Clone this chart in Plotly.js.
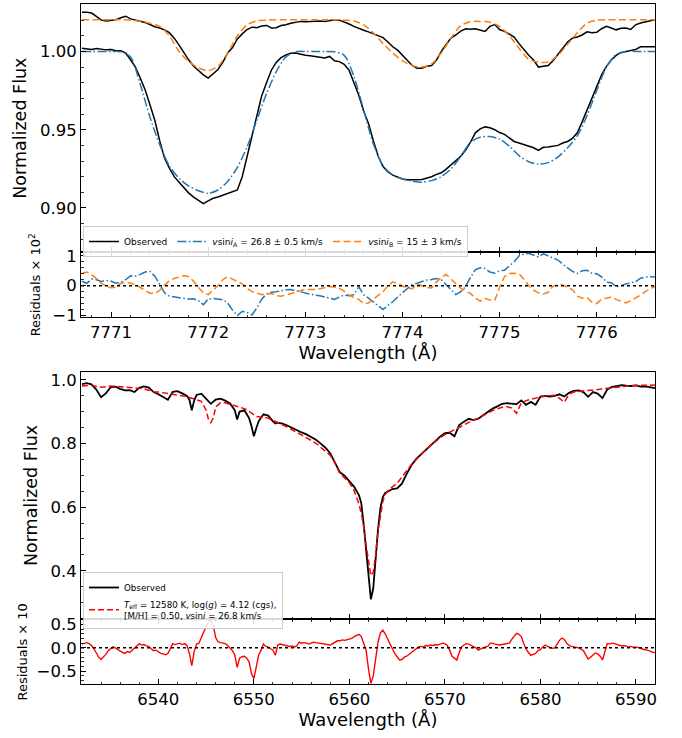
<!DOCTYPE html>
<html><head><meta charset="utf-8">
<script src="https://cdn.plot.ly/plotly-3.0.1.min.js"></script>
<style>html,body{margin:0;padding:0;background:#fff}#chart{width:682px;height:738px}</style>
</head><body><div id="chart"></div>
<script>
// ---------- Top panel (O I triplet) ----------
const wlTop = [
7770.70,7770.75,7770.80,7770.85,7770.90,7770.95,7771.00,7771.05,7771.10,7771.15,
7771.20,7771.25,7771.30,7771.35,7771.40,7771.45,7771.50,7771.55,7771.60,7771.65,
7771.70,7771.75,7771.80,7771.85,7771.90,7771.95,7772.00,7772.05,7772.10,7772.15,
7772.20,7772.25,7772.30,7772.35,7772.40,7772.45,7772.50,7772.55,7772.60,7772.65,
7772.70,7772.75,7772.80,7772.85,7772.90,7772.95,7773.00,7773.05,7773.10,7773.15,
7773.20,7773.25,7773.30,7773.35,7773.40,7773.45,7773.50,7773.55,7773.60,7773.65,
7773.70,7773.75,7773.80,7773.85,7773.90,7773.95,7774.00,7774.05,7774.10,7774.15,
7774.20,7774.25,7774.30,7774.35,7774.40,7774.45,7774.50,7774.55,7774.60,7774.65,
7774.70,7774.75,7774.80,7774.85,7774.90,7774.95,7775.00,7775.05,7775.10,7775.15,
7775.20,7775.25,7775.30,7775.35,7775.40,7775.45,7775.50,7775.55,7775.60,7775.65,
7775.70,7775.75,7775.80,7775.85,7775.90,7775.95,7776.00,7776.05,7776.10,7776.15,
7776.20,7776.25,7776.30,7776.35,7776.40,7776.45,7776.50,7776.55,7776.60];
const obsA = [
1.0020,1.0015,1.0012,1.0018,1.0015,1.0010,1.0012,1.0005,1.0005,0.9990,
0.9947,0.9900,0.9830,0.9755,0.9660,0.9560,0.9430,0.9320,0.9255,0.9200,
0.9165,0.9130,0.9095,0.9070,0.9050,0.9028,0.9045,0.9062,0.9070,0.9080,
0.9092,0.9105,0.9115,0.9200,0.9330,0.9460,0.9580,0.9715,0.9800,0.9880,
0.9930,0.9960,0.9978,0.9988,0.9990,0.9982,0.9975,0.9972,0.9968,0.9962,
0.9958,0.9968,0.9940,0.9935,0.9918,0.9880,0.9800,0.9720,0.9620,0.9540,
0.9430,0.9330,0.9265,0.9230,0.9210,0.9195,0.9185,0.9180,0.9178,0.9180,
0.9182,0.9190,0.9200,0.9215,0.9225,0.9248,0.9275,0.9300,0.9330,0.9370,
0.9420,0.9480,0.9505,0.9518,0.9512,0.9500,0.9482,0.9470,0.9450,0.9425,
0.9415,0.9405,0.9398,0.9385,0.9368,0.9388,0.9390,0.9395,0.9400,0.9415,
0.9425,0.9445,0.9480,0.9550,0.9625,0.9700,0.9776,0.9850,0.9905,0.9945,
0.9975,0.9992,1.0000,1.0008,1.0012,1.0030,1.0028,1.0030,1.0030];
const obsB = [
1.0250,1.0250,1.0245,1.0225,1.0200,1.0195,1.0200,1.0202,1.0215,1.0225,
1.0208,1.0200,1.0195,1.0185,1.0172,1.0158,1.0150,1.0138,1.0120,1.0085,
1.0040,0.9990,0.9945,0.9905,0.9875,0.9850,0.9830,0.9860,0.9885,0.9930,
0.9990,1.0025,1.0080,1.0112,1.0140,1.0155,1.0152,1.0162,1.0166,1.0150,
1.0152,1.0165,1.0170,1.0180,1.0188,1.0192,1.0190,1.0193,1.0192,1.0195,
1.0192,1.0198,1.0203,1.0200,1.0190,1.0175,1.0160,1.0150,1.0135,1.0125,
1.0112,1.0100,1.0088,1.0060,1.0030,1.0008,0.9975,0.9945,0.9910,0.9892,
0.9893,0.9905,0.9910,0.9945,1.0000,1.0045,1.0085,1.0105,1.0130,1.0145,
1.0142,1.0145,1.0138,1.0128,1.0160,1.0172,1.0140,1.0128,1.0110,1.0092,
1.0050,1.0010,0.9975,0.9945,0.9900,0.9905,0.9910,0.9940,0.9980,1.0015,
1.0060,1.0085,1.0092,1.0105,1.0125,1.0120,1.0122,1.0145,1.0160,1.0150,
1.0138,1.0148,1.0150,1.0140,1.0170,1.0182,1.0190,1.0198,1.0203];
const residA = [
0.15,0.08,0.22,0.20,0.14,0.18,0.15,0.08,0.12,0.20,
0.33,0.32,0.38,0.46,0.48,0.32,0.05,-0.24,-0.35,-0.38,
-0.41,-0.43,-0.45,-0.44,-0.50,-0.64,-0.44,-0.43,-0.45,-0.47,
-0.58,-0.82,-1.00,-0.86,-0.90,-0.98,-0.75,-0.45,-0.28,-0.22,
-0.20,-0.16,-0.14,-0.13,-0.17,-0.21,-0.24,-0.28,-0.32,-0.34,
-0.37,-0.42,-0.46,-0.38,-0.31,-0.34,-0.30,-0.04,-0.30,-0.42,
-0.55,-0.68,-0.80,-0.66,-0.54,-0.38,-0.24,-0.08,0.04,0.08,
0.14,0.19,0.21,0.24,0.20,0.04,-0.15,-0.30,-0.20,-0.03,
0.28,0.53,0.60,0.58,0.46,0.42,0.50,0.52,0.66,0.80,
1.00,1.06,1.09,1.02,0.96,1.07,1.00,0.92,0.86,0.72,
0.60,0.48,0.41,0.50,0.52,0.42,0.40,0.30,0.12,0.10,
-0.03,0.00,0.06,0.10,0.13,0.25,0.29,0.30,0.29];
const residB = [
0.41,0.46,0.36,0.24,0.08,-0.02,-0.07,-0.05,0.08,0.12,
0.08,0.04,-0.06,-0.16,-0.25,-0.26,-0.16,0.02,0.17,0.24,
0.28,0.34,0.30,0.15,-0.06,-0.24,-0.30,-0.16,0.00,0.20,
0.30,0.22,0.14,0.06,-0.09,-0.20,-0.25,-0.30,-0.27,-0.26,
-0.33,-0.35,-0.31,-0.26,-0.20,-0.15,-0.12,-0.13,-0.13,-0.10,
-0.07,-0.03,-0.05,-0.09,-0.18,-0.32,-0.40,-0.46,-0.60,-0.58,
-0.45,-0.32,-0.20,0.00,0.13,0.06,0.00,-0.08,-0.10,0.06,
0.00,-0.06,-0.08,0.12,0.28,0.38,0.22,0.08,-0.08,-0.18,
-0.26,-0.42,-0.52,-0.42,-0.48,-0.50,-0.05,0.30,0.41,0.42,
0.40,0.22,0.00,-0.15,-0.24,-0.28,-0.22,-0.02,0.04,0.02,
-0.05,-0.13,-0.35,-0.42,-0.40,-0.55,-0.60,-0.45,-0.42,-0.38,
-0.46,-0.52,-0.58,-0.50,-0.42,-0.32,-0.20,-0.10,-0.02];

const wlModel = [
7770.7,7770.8,7770.9,7771.0,7771.1,7771.2,7771.3,7771.4,7771.5,7771.6,
7771.7,7771.8,7771.9,7772.0,7772.1,7772.2,7772.3,7772.4,7772.5,7772.6,
7772.7,7772.8,7772.9,7773.0,7773.1,7773.2,7773.3,7773.4,7773.5,7773.6,
7773.7,7773.8,7773.9,7774.0,7774.1,7774.2,7774.3,7774.4,7774.5,7774.6,
7774.7,7774.8,7774.9,7775.0,7775.1,7775.2,7775.3,7775.4,7775.5,7775.6,
7775.7,7775.8,7775.9,7776.0,7776.1,7776.2,7776.3,7776.4,7776.5,7776.6];
const modelA = [
1.0000,1.0000,1.0000,1.0000,0.9998,0.9965,0.9790,0.9580,0.9405,0.9268,
0.9190,0.9140,0.9110,0.9094,0.9115,0.9170,0.9260,0.9390,0.9560,0.9730,
0.9870,0.9965,0.9998,1.0000,1.0000,1.0000,0.9998,0.9975,0.9840,0.9627,
0.9410,0.9270,0.9210,0.9185,0.9172,0.9165,0.9175,0.9200,0.9250,0.9330,
0.9420,0.9452,0.9456,0.9440,0.9395,0.9335,0.9295,0.9280,0.9290,0.9325,
0.9385,0.9460,0.9590,0.9750,0.9900,0.9980,1.0000,1.0000,1.0000,1.0000];
const modelB = [
1.0203,1.0203,1.0203,1.0203,1.0203,1.0200,1.0192,1.0180,1.0160,1.0100,
1.0000,0.9935,0.9895,0.9877,0.9905,0.9990,1.0100,1.0170,1.0195,1.0200,
1.0203,1.0203,1.0203,1.0203,1.0203,1.0203,1.0203,1.0200,1.0195,1.0170,
1.0118,1.0050,0.9990,0.9940,0.9910,0.9900,0.9920,0.9990,1.0085,1.0165,
1.0190,1.0192,1.0186,1.0160,1.0100,1.0020,0.9950,0.9932,0.9932,0.9975,
1.0045,1.0120,1.0180,1.0200,1.0203,1.0203,1.0203,1.0203,1.0203,1.0203];

// ---------- Bottom panel (H-alpha) ----------
const wlBot = [
6532.0,6532.5,6533.0,6533.5,6534.0,6534.5,6535.0,6535.5,6536.0,6536.5,
6537.0,6537.5,6538.0,6538.5,6539.0,6539.5,6540.0,6540.5,6541.0,6541.5,
6542.0,6542.5,6543.0,6543.25,6543.5,6543.75,6544.0,6544.5,6545.0,6545.25,
6545.5,6545.75,6546.0,6546.5,6547.0,6547.5,6548.0,6548.25,6548.5,6549.0,
6549.5,6549.75,6550.0,6550.25,6550.5,6551.0,6551.5,6552.0,6552.25,6552.5,
6553.0,6553.5,6554.0,6554.5,6555.0,6555.5,6556.0,6556.5,6557.0,6557.5,
6558.0,6558.5,6559.0,6559.5,6560.0,6560.5,6561.0,6561.25,6561.5,6561.75,
6562.0,6562.25,6562.5,6562.75,6563.0,6563.25,6563.5,6563.75,6564.0,6564.5,
6565.0,6565.5,6566.0,6566.5,6567.0,6567.5,6568.0,6568.5,6569.0,6569.5,
6570.0,6570.5,6571.0,6571.5,6572.0,6572.5,6573.0,6573.5,6574.0,6574.5,
6575.0,6575.5,6576.0,6576.5,6577.0,6577.5,6578.0,6578.5,6579.0,6579.5,
6580.0,6580.5,6581.0,6581.5,6582.0,6582.5,6583.0,6583.5,6584.0,6584.5,
6585.0,6585.5,6586.0,6586.5,6587.0,6587.5,6588.0,6588.5,6589.0,6589.5,
6590.0,6590.5,6591.0,6591.5,6592.0];
const obsH = [
0.987,0.990,0.986,0.970,0.946,0.958,0.977,0.979,0.972,0.967,
0.968,0.962,0.975,0.980,0.976,0.962,0.955,0.946,0.938,0.963,
0.965,0.958,0.950,0.938,0.905,0.935,0.953,0.957,0.940,0.930,
0.925,0.932,0.938,0.941,0.935,0.926,0.905,0.876,0.900,0.905,
0.880,0.855,0.823,0.848,0.870,0.892,0.888,0.870,0.863,0.866,
0.863,0.857,0.849,0.841,0.835,0.829,0.820,0.812,0.800,0.787,
0.769,0.740,0.710,0.699,0.683,0.664,0.638,0.612,0.545,0.468,
0.375,0.310,0.345,0.440,0.530,0.598,0.632,0.645,0.649,0.657,
0.659,0.674,0.705,0.732,0.752,0.766,0.781,0.795,0.808,0.822,
0.833,0.834,0.823,0.858,0.869,0.878,0.874,0.878,0.889,0.901,
0.910,0.917,0.925,0.927,0.925,0.924,0.936,0.922,0.931,0.922,
0.948,0.950,0.948,0.950,0.955,0.948,0.960,0.966,0.967,0.962,
0.947,0.962,0.957,0.943,0.970,0.978,0.981,0.984,0.982,0.981,
0.983,0.979,0.980,0.978,0.974];
const modelH = [
0.981,0.982,0.983,0.980,0.977,0.979,0.981,0.980,0.978,0.977,
0.976,0.975,0.974,0.972,0.968,0.963,0.962,0.960,0.958,0.956,
0.954,0.952,0.948,0.945,0.943,0.941,0.939,0.933,0.905,0.876,
0.866,0.880,0.915,0.928,0.928,0.924,0.920,0.918,0.916,0.910,
0.901,0.895,0.889,0.885,0.884,0.883,0.880,0.873,0.869,0.866,
0.859,0.852,0.844,0.836,0.827,0.818,0.810,0.801,0.789,0.777,
0.763,0.738,0.706,0.692,0.677,0.652,0.610,0.580,0.540,0.480,
0.425,0.385,0.395,0.450,0.525,0.580,0.618,0.640,0.651,0.664,
0.675,0.695,0.716,0.734,0.750,0.766,0.781,0.794,0.807,0.818,
0.828,0.836,0.844,0.851,0.859,0.866,0.874,0.880,0.888,0.896,
0.904,0.909,0.914,0.916,0.912,0.895,0.928,0.935,0.940,0.943,
0.947,0.949,0.951,0.952,0.942,0.930,0.955,0.962,0.964,0.965,
0.967,0.968,0.970,0.972,0.974,0.976,0.978,0.980,0.981,0.982,
0.983,0.983,0.984,0.984,0.984];

// residuals (x10) on a finer 0.25 A grid
const wlRes = [
6532.00,6532.25,6532.50,6532.75,6533.00,6533.25,6533.50,6533.75,6534.00,6534.25,
6534.50,6534.75,6535.00,6535.25,6535.50,6535.75,6536.00,6536.25,6536.50,6536.75,
6537.00,6537.25,6537.50,6537.75,6538.00,6538.25,6538.50,6538.75,6539.00,6539.25,
6539.50,6539.75,6540.00,6540.25,6540.50,6540.75,6541.00,6541.25,6541.50,6541.75,
6542.00,6542.25,6542.50,6542.75,6543.00,6543.25,6543.50,6543.75,6544.00,6544.25,
6544.50,6544.75,6545.00,6545.25,6545.50,6545.75,6546.00,6546.25,6546.50,6546.75,
6547.00,6547.25,6547.50,6547.75,6548.00,6548.25,6548.50,6548.75,6549.00,6549.25,
6549.50,6549.75,6550.00,6550.25,6550.50,6550.75,6551.00,6551.25,6551.50,6551.75,
6552.00,6552.25,6552.50,6552.75,6553.00,6553.25,6553.50,6553.75,6554.00,6554.25,
6554.50,6554.75,6555.00,6555.25,6555.50,6555.75,6556.00,6556.25,6556.50,6556.75,
6557.00,6557.25,6557.50,6557.75,6558.00,6558.25,6558.50,6558.75,6559.00,6559.25,
6559.50,6559.75,6560.00,6560.25,6560.50,6560.75,6561.00,6561.25,6561.50,6561.75,
6562.00,6562.25,6562.50,6562.75,6563.00,6563.25,6563.50,6563.75,6564.00,6564.25,
6564.50,6564.75,6565.00,6565.25,6565.50,6565.75,6566.00,6566.25,6566.50,6566.75,
6567.00,6567.25,6567.50,6567.75,6568.00,6568.25,6568.50,6568.75,6569.00,6569.25,
6569.50,6569.75,6570.00,6570.25,6570.50,6570.75,6571.00,6571.25,6571.50,6571.75,
6572.00,6572.25,6572.50,6572.75,6573.00,6573.25,6573.50,6573.75,6574.00,6574.25,
6574.50,6574.75,6575.00,6575.25,6575.50,6575.75,6576.00,6576.25,6576.50,6576.75,
6577.00,6577.25,6577.50,6577.75,6578.00,6578.25,6578.50,6578.75,6579.00,6579.25,
6579.50,6579.75,6580.00,6580.25,6580.50,6580.75,6581.00,6581.25,6581.50,6581.75,
6582.00,6582.25,6582.50,6582.75,6583.00,6583.25,6583.50,6583.75,6584.00,6584.25,
6584.50,6584.75,6585.00,6585.25,6585.50,6585.75,6586.00,6586.25,6586.50,6586.75,
6587.00,6587.25,6587.50,6587.75,6588.00,6588.25,6588.50,6588.75,6589.00,6589.25,
6589.50,6589.75,6590.00,6590.25,6590.50,6590.75,6591.00,6591.25,6591.50,6591.75,
6592.00];
const residH = [
0.08,0.10,0.11,0.09,0.05,-0.02,-0.12,-0.20,-0.25,-0.20,
-0.14,-0.06,-0.02,0.02,0.00,-0.04,-0.06,-0.10,-0.12,-0.08,
-0.10,-0.05,-0.02,0.04,0.09,0.06,0.07,0.04,0.03,-0.02,
-0.06,-0.05,-0.09,-0.12,-0.13,-0.15,-0.12,-0.03,0.09,0.07,
0.08,0.10,0.07,0.09,0.05,-0.12,-0.38,-0.08,0.08,0.10,
0.22,0.35,0.48,0.57,0.58,0.48,0.22,0.13,0.11,0.10,
0.09,0.05,0.00,-0.06,-0.15,-0.42,-0.22,-0.19,-0.18,-0.22,
-0.30,-0.55,-0.66,-0.38,-0.16,-0.05,0.08,0.03,0.02,-0.02,
-0.05,-0.16,0.06,0.08,0.07,0.05,0.05,0.03,0.04,0.02,
0.04,0.12,0.10,0.11,0.10,0.08,0.10,0.12,0.11,0.10,
0.10,0.09,0.08,0.07,0.06,0.09,0.13,0.15,0.15,0.17,
0.16,0.17,0.18,0.20,0.24,0.27,0.29,0.24,0.10,-0.05,
-0.45,-0.76,-0.60,-0.25,0.12,0.32,0.38,0.30,0.18,0.08,
-0.02,-0.12,-0.20,-0.26,-0.25,-0.20,-0.18,-0.14,-0.10,-0.04,
0.00,0.02,0.03,0.02,0.05,0.04,0.06,0.05,0.07,0.06,
0.08,0.10,0.09,0.05,-0.05,-0.18,-0.22,-0.26,-0.10,0.02,
0.06,0.09,0.08,0.05,0.03,0.00,-0.05,-0.02,0.00,0.02,
0.03,0.10,0.10,0.08,0.07,0.06,0.07,0.08,0.09,0.10,
0.18,0.26,0.31,0.29,0.24,0.10,-0.03,-0.10,-0.16,-0.14,
-0.12,-0.06,-0.04,0.02,0.06,0.03,0.01,-0.01,0.00,0.08,
0.16,0.21,0.18,0.10,0.05,0.03,0.02,0.01,0.00,-0.03,
-0.06,-0.15,-0.24,-0.20,-0.15,-0.11,-0.13,-0.18,-0.26,-0.10,
0.09,0.08,0.10,0.09,0.07,0.06,0.04,0.05,0.03,0.02,
0.03,0.01,0.02,0.00,-0.01,-0.03,-0.04,-0.05,-0.07,-0.09,
-0.11];

const labelObs = 'Observed';
const labelA = '<i>v</i>sin<i>i</i><sub>A</sub> = 26.8 ± 0.5 km/s';
const labelB = '<i>v</i>sin<i>i</i><sub>B</sub> = 15 ± 3 km/s';
const labelH = '<i>T</i><sub>eff</sub> = 12580 K, log(<i>g</i>) = 4.12 (cgs),<br>[M/H] = 0.50, <i>v</i>sin<i>i</i> = 26.8 km/s';

const BLUE = '#1f77b4', ORANGE = '#ff7f0e', RED = '#ff0000';
const DASHDOT = '9px,2.5px,1.5px,2.5px';
const DASHED = '7px,3.5px';

const traces = [
  {x: wlTop, y: obsA, xaxis:'x', yaxis:'y', mode:'lines', name: labelObs, line:{color:'black', width:1.5}, legend:'legend'},
  {x: wlTop, y: obsB, xaxis:'x', yaxis:'y', mode:'lines', name: labelObs, showlegend:false, line:{color:'black', width:1.5}, legend:'legend'},
  {x: wlModel, y: modelA, xaxis:'x', yaxis:'y', mode:'lines', name: labelA, line:{color:BLUE, width:1.5, dash:DASHDOT, shape:'spline', smoothing:0.8}, legend:'legend'},
  {x: wlModel, y: modelB, xaxis:'x', yaxis:'y', mode:'lines', name: labelB, line:{color:ORANGE, width:1.5, dash:DASHED, shape:'spline', smoothing:0.8}, legend:'legend'},
  {x: wlTop, y: residA, xaxis:'x2', yaxis:'y2', mode:'lines', showlegend:false, line:{color:BLUE, width:1.5, dash:DASHDOT}},
  {x: wlTop, y: residB, xaxis:'x2', yaxis:'y2', mode:'lines', showlegend:false, line:{color:ORANGE, width:1.5, dash:DASHED}},
  {x: wlBot, y: obsH, xaxis:'x3', yaxis:'y3', mode:'lines', name: labelObs, line:{color:'black', width:1.8}, legend:'legend2'},
  {x: wlBot, y: modelH, xaxis:'x3', yaxis:'y3', mode:'lines', name: labelH, line:{color:RED, width:1.5, dash:'6px,3px'}, legend:'legend2'},
  {x: wlRes, y: residH, xaxis:'x4', yaxis:'y4', mode:'lines', showlegend:false, line:{color:RED, width:1.4}}
];

const FONT = 'DejaVu Sans';
const XD = [81/682, 655/682];
function ax(extra) {
  return Object.assign({
    showline:true, linecolor:'black', linewidth:1, showgrid:false, zeroline:false,
    ticks:'inside', ticklen:5, tickwidth:1, tickcolor:'black', tickmode:'linear',
    tickfont:{family:FONT, size:16.5, color:'black'}
  }, extra);
}
function minor(d) { return {dtick:d, ticks:'inside', ticklen:2.5, tickwidth:0.8, tickcolor:'black', showgrid:false}; }

const layout = {
  width:682, height:738, margin:{l:0, r:0, t:0, b:0},
  paper_bgcolor:'white', plot_bgcolor:'white',
  font:{family:FONT, color:'black'},
  xaxis: ax({domain:XD, anchor:'y', range:[7770.69, 7776.6], tick0:7771, dtick:1, minor:minor(0.2), showticklabels:false, mirror:true}),
  yaxis: ax({domain:[0.65813, 0.99458], anchor:'x', range:[0.8717, 1.0303], tick0:0.9, dtick:0.05, tickformat:'.2f', minor:minor(0.01), mirror:true,
    title:{text:'Normalized Flux', font:{family:FONT, size:17.5}, standoff:8}}),
  xaxis2: ax({domain:XD, anchor:'y2', range:[7770.69, 7776.6], tick0:7771, dtick:1, minor:minor(0.2), mirror:'allticks',
    title:{text:'Wavelength (Å)', font:{family:FONT, size:18}, standoff:4}}),
  yaxis2: ax({domain:[0.57005, 0.65813], anchor:'x2', range:[-1.06, 1.12], tick0:0, dtick:1, tickformat:'d', minor:minor(0.2), mirror:true,
    title:{text:'Residuals × 10<sup>2</sup>', font:{family:FONT, size:13}, standoff:8}}),
  xaxis3: ax({domain:XD, anchor:'y3', range:[6531.9, 6592.0], tick0:6540, dtick:10, minor:minor(2), showticklabels:false, mirror:true}),
  yaxis3: ax({domain:[0.16084, 0.49634], anchor:'x3', range:[0.2475, 1.026], tick0:0.4, dtick:0.2, tickformat:'.1f', minor:minor(0.05), mirror:true,
    title:{text:'Normalized Flux', font:{family:FONT, size:17.5}, standoff:8}}),
  xaxis4: ax({domain:XD, anchor:'y4', range:[6531.9, 6592.0], tick0:6540, dtick:10, minor:minor(2), mirror:'allticks',
    title:{text:'Wavelength (Å)', font:{family:FONT, size:18}, standoff:4}}),
  yaxis4: ax({domain:[0.07276, 0.16084], anchor:'x4', range:[-0.78, 0.61], tick0:0, dtick:0.5, tickformat:'.1f', minor:minor(0.1), mirror:true,
    title:{text:'Residuals × 10', font:{family:FONT, size:13}, standoff:6}}),
  shapes: [
    {type:'line', xref:'x2 domain', x0:0, x1:1, yref:'y2', y0:0, y1:0, line:{color:'black', width:1.5, dash:'dot'}},
    {type:'line', xref:'x4 domain', x0:0, x1:1, yref:'y4', y0:0, y1:0, line:{color:'black', width:1.5, dash:'dot'}}
  ],
  legend: {x:83/682, y:1-226/738, xanchor:'left', yanchor:'top', orientation:'h',
    bgcolor:'rgba(255,255,255,0.85)', bordercolor:'#cccccc', borderwidth:1,
    font:{family:FONT, size:9, color:'black'}, itemwidth:30},
  legend2: {x:83/682, y:1-572/738, xanchor:'left', yanchor:'top', orientation:'v',
    bgcolor:'rgba(255,255,255,0.85)', bordercolor:'#cccccc', borderwidth:1,
    font:{family:FONT, size:8.7, color:'black'}, itemwidth:30, tracegroupgap:0}
};

Plotly.newPlot('chart', traces, layout, {staticPlot:true, displayModeBar:false});
</script></body></html>
